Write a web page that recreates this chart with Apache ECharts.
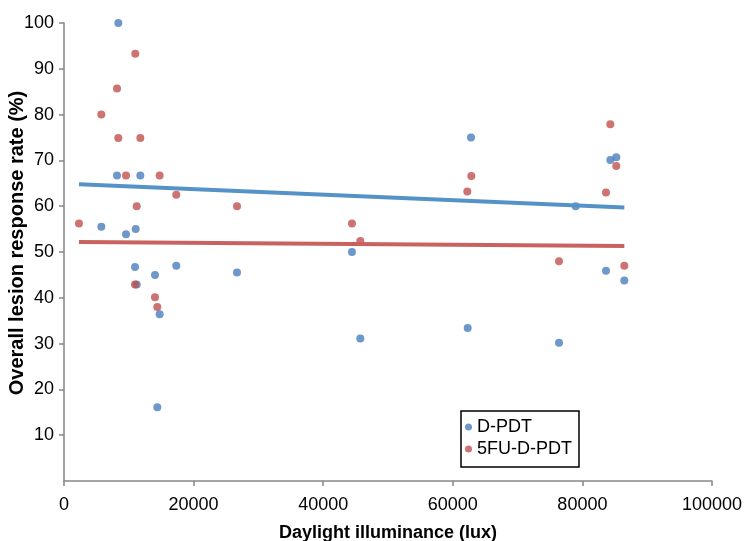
<!DOCTYPE html>
<html>
<head>
<meta charset="utf-8">
<script src="https://cdn.jsdelivr.net/npm/echarts@6/dist/echarts.min.js"></script>
<style>
html,body{margin:0;padding:0;background:#fff;}
#chart{width:744px;height:541px;}
</style>
</head>
<body>
<div id="chart"></div>
<script>
// D-PDT: [illuminance (lux), response rate (%)]
const dpdtX = [8380, 8180, 11780, 5760, 9570, 11060, 10960, 14040, 17330, 26700, 11220, 14760, 14400, 62810, 44440, 45730, 62300, 84310, 85230, 78960, 83640, 86470, 76390];
const dpdtY = [100, 66.7, 66.7, 55.5, 53.9, 55.0, 46.7, 45.0, 47.0, 45.5, 42.9, 36.4, 16.1, 75.0, 50.0, 31.1, 33.4, 70.1, 70.7, 60.0, 45.9, 43.8, 30.2];
// 5FU-D-PDT
const fuX = [11000, 8180, 5760, 8380, 11780, 9570, 14760, 17330, 11220, 26700, 2310, 10960, 14040, 14400, 62860, 62240, 44440, 45730, 84310, 85230, 83640, 76390, 86470];
const fuY = [93.3, 85.7, 80.0, 74.9, 74.9, 66.7, 66.7, 62.5, 60.0, 60.0, 56.2, 42.9, 40.1, 38.0, 66.6, 63.2, 56.2, 52.4, 77.9, 68.8, 63.0, 48.0, 47.0];
// linear trendlines (endpoints)
const trendX = [2310, 86470];
const dpdtTrendY = [64.8, 59.7];
const fuTrendY = [52.2, 51.3];

const seriesNames = ['D-PDT', '5FU-D-PDT'];
const xTitle = 'Daylight illuminance (lux)';
const yTitle = 'Overall lesion response rate (%)';

const zip = (a, b) => a.map((v, i) => [v, b[i]]);
const FONT = '"Liberation Sans", Arial, sans-serif';
const axisColor = '#868686';

const chart = echarts.init(document.getElementById('chart'), null, {renderer: 'canvas'});
chart.setOption({
  animation: false,
  backgroundColor: '#fff',
  grid: {left: 64, right: 32, top: 23, bottom: 60, containLabel: false, outerBoundsMode: 'none'},
  xAxis: {
    type: 'value', min: 0, max: 100000, interval: 20000,
    name: xTitle, nameLocation: 'middle', nameGap: 43, nameMoveOverlap: false,
    nameTextStyle: {fontFamily: FONT, fontSize: 18, fontWeight: 'bold', color: '#000'},
    axisLine: {show: true, onZero: false, lineStyle: {color: axisColor, width: 1.5}},
    axisTick: {show: true, length: 5, lineStyle: {color: axisColor, width: 1.5}},
    axisLabel: {fontFamily: FONT, fontSize: 18, color: '#000', margin: 15, formatter: v => String(v)},
    splitLine: {show: false}
  },
  yAxis: {
    type: 'value', min: 0, max: 100, interval: 10,
    name: yTitle, nameLocation: 'middle', nameGap: 37, nameRotate: 90, nameMoveOverlap: false,
    nameTextStyle: {fontFamily: FONT, fontSize: 20, fontWeight: 'bold', color: '#000', padding: [0, 0, 0, 18]},
    axisLine: {show: true, onZero: false, lineStyle: {color: axisColor, width: 1.5}},
    axisTick: {show: true, length: 5, lineStyle: {color: axisColor, width: 1.5}},
    axisLabel: {fontFamily: FONT, fontSize: 18, color: '#000', margin: 10, showMinLabel: false,
      formatter: v => v === 0 ? '' : String(v)},
    splitLine: {show: false}
  },
  legend: {
    data: seriesNames,
    orient: 'vertical',
    left: 461, top: 411,
    padding: [7, 7, 9, 4],
    itemGap: 4,
    itemWidth: 7, itemHeight: 7,
    icon: 'circle',
    borderColor: '#000', borderWidth: 1.5,
    textStyle: {fontFamily: FONT, fontSize: 18, color: '#000'}
  },
  series: [
    {name: seriesNames[0], type: 'scatter', data: zip(dpdtX, dpdtY), symbolSize: 8,
      itemStyle: {color: '#4A7EBB'}, z: 2},
    {name: seriesNames[1], type: 'scatter', data: zip(fuX, fuY), symbolSize: 8,
      itemStyle: {color: '#C0504D'}, z: 2},
    {name: 'D-PDT trend', type: 'line', data: zip(trendX, dpdtTrendY), showSymbol: false, symbol: 'none',
      lineStyle: {color: '#5592C8', width: 4}, z: 3, silent: true},
    {name: '5FU-D-PDT trend', type: 'line', data: zip(trendX, fuTrendY), showSymbol: false, symbol: 'none',
      lineStyle: {color: '#C9625E', width: 4}, z: 3, silent: true}
  ]
});
</script>
</body>
</html>
